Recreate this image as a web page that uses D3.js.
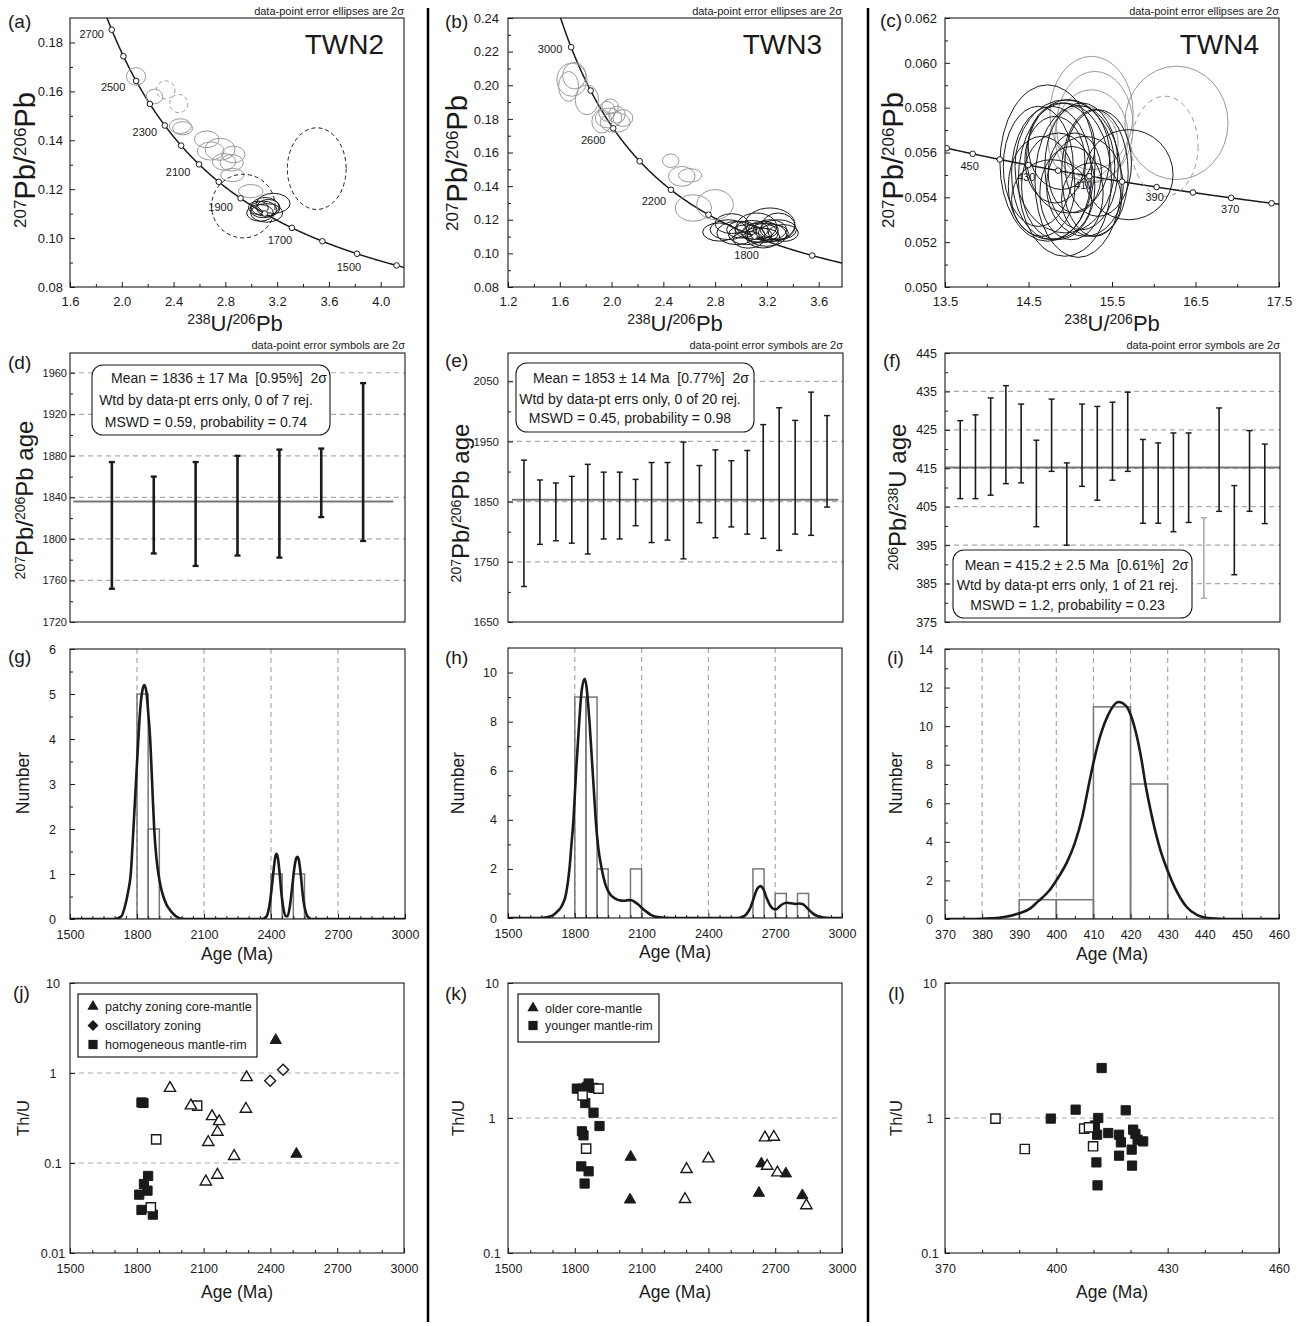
<!DOCTYPE html>
<html><head><meta charset="utf-8">
<script src="https://cdn.jsdelivr.net/npm/d3@7"></script>
<style>body{margin:0;background:#fff}svg{display:block}</style>
</head><body>
<svg id="chart" width="1305" height="1326"></svg>
<script>
// ================= DATA =================
// decay constants (per year) for the Tera-Wasserburg concordia
const LAMBDA238 = 1.55125e-10, LAMBDA235 = 9.8485e-10, U238_U235 = 137.88;

// ---- (a) TWN2 concordia: ellipses [x, y, rx, ry] in ratio units
const concA_ages = [1400,1500,1600,1700,1800,1900,2000,2100,2200,2300,2400,2500,2600,2700];
const concA_labels = [2700,2500,2300,2100,1900,1700,1500];
const ellA_gray = [[2.110,.1661,.074,.0036],[2.252,.1579,.064,.0030],[2.452,.1458,.085,.0030],[2.470,.1449,.077,.0027],
  [2.656,.1404,.095,.0034],[2.687,.1356,.103,.0037],[2.759,.1363,.116,.0045],[2.790,.1312,.090,.0034],
  [2.862,.1342,.090,.0034],[2.849,.1308,.090,.0034],[2.854,.1258,.090,.0027],[2.996,.1192,.095,.0027]];
const ellA_grayDash = [[2.339,.1606,.072,.0037],[2.440,.1550,.070,.0037]];
const ellA_blackDash = [[2.939,.1131,.245,.0130],[3.506,.1284,.227,.0167]];
const ellA_black = [[3.094,.1117,.103,.0034],[3.055,.1124,.077,.0027],[3.119,.1103,.124,.0038],[3.171,.1142,.129,.0041],
  [3.132,.1124,.090,.0034],[3.068,.1103,.103,.0034],[3.107,.1128,.108,.0038]];

// ---- (b) TWN3
const concB_ages = [1600,1800,2000,2200,2400,2600,2800,3000];
const concB_labels = [3000,2600,2200,1800];
const ellB_gray = [[1.694,.2033,.116,.0099],[1.712,.2057,.090,.0079],[1.668,.1993,.077,.0089],[1.809,.1914,.090,.0089],
  [1.964,.1845,.064,.0059],[1.989,.1874,.064,.0044],[1.977,.1805,.103,.0059],[2.041,.1825,.064,.0050],
  [2.087,.1805,.077,.0050],[1.925,.1785,.077,.0069],[2.028,.1779,.116,.0059],[2.457,.1551,.064,.0040],
  [2.542,.1458,.103,.0059],[2.607,.1464,.090,.0040],[2.632,.1270,.141,.0079],[2.799,.1290,.141,.0089]];
const ellB_black = [[2.833,.1127,.129,.0054],[2.902,.1141,.141,.0059],[2.928,.1177,.129,.0059],[2.967,.1121,.154,.0069],
  [3.005,.1141,.116,.0050],[3.044,.1111,.141,.0059],[3.082,.1141,.129,.0055],[3.121,.1161,.154,.0079],
  [3.147,.1121,.141,.0059],[3.172,.1141,.116,.0050],[3.198,.1111,.154,.0069],[3.224,.1141,.129,.0059],
  [3.249,.1121,.116,.0050],[3.288,.1141,.141,.0059],[3.327,.1121,.116,.0050],[3.288,.1161,.129,.0079],
  [3.224,.1171,.193,.0099],[3.172,.1091,.129,.0059],[3.057,.1081,.116,.0050],[3.134,.1111,.103,.0044]];

// ---- (c) TWN4
const concC_ages = [360,370,380,390,400,410,420,430,440,450,460];
const concC_labels = [450,430,410,390,370];
const ellC_gray = [[16.272,.05732,.618,.00253],[15.255,.05776,.499,.00253],[15.295,.05717,.459,.00245],
  [15.255,.05672,.439,.00208],[15.155,.05642,.419,.00164]];
const ellC_grayDash = [[16.132,.05628,.399,.00223]];
const ellC_black = [[14.728,.05553,.570,.00349],[15.701,.05501,.530,.00201],[14.936,.05479,.558,.00342],
  [15.095,.05471,.518,.00339],[14.776,.05509,.479,.00297],[14.976,.05583,.499,.00253],[14.856,.05449,.439,.00238],
  [15.135,.05538,.439,.00283],[14.657,.05449,.399,.00223],[15.295,.05509,.399,.00283],[15.015,.05419,.379,.00208],
  [14.816,.05568,.359,.00193],[15.175,.05449,.459,.00223],[14.936,.05538,.598,.00297],[15.334,.05553,.399,.00238],
  [14.776,.05390,.479,.00178],[15.055,.05509,.319,.00178],[14.617,.05538,.419,.00268],[15.255,.05390,.359,.00164],
  [14.896,.05628,.399,.00193]];

// ---- (d)(e)(f) weighted means: [low, high] of each 2σ error bar
const barsD = [[1752,1874],[1786,1860],[1774,1874],[1784,1880],[1782,1886],[1821,1887],[1798,1950]];
const meanD = 1836;
const barsE = [[1709,1919],[1779,1886],[1785,1881],[1781,1892],[1763,1912],[1788,1899],[1788,1899],[1810,1887],
  [1782,1915],[1786,1915],[1755,1949],[1815,1910],[1790,1936],[1808,1918],[1796,1935],[1789,1978],
  [1769,2006],[1796,1985],[1794,2032],[1841,1993]];
const meanE = 1853;
const barsF = [[407.1,427.4],[407.1,428.9],[408.0,433.3],[411.0,436.5],[411.2,431.7],[399.8,422.3],[414.2,433.0],
  [395.0,416.4],[410.3,431.7],[406.7,431.1],[411.9,432.2],[414.2,434.8],[400.7,422.5],[400.7,421.6],
  [398.5,424.2],[400.9,424.2],[381.2,402.1],[403.8,430.7],[387.3,410.5],[403.8,424.8],[400.6,421.3]];
const rejectedF = [16];
const meanF = 415.2;
const boxTextD = ["Mean = 1836 ± 17 Ma  [0.95%]  2σ","Wtd by data-pt errs only, 0 of 7 rej.","MSWD = 0.59, probability = 0.74"];
const boxTextE = ["Mean = 1853 ± 14 Ma  [0.77%]  2σ","Wtd by data-pt errs only, 0 of 20 rej.","MSWD = 0.45, probability = 0.98"];
const boxTextF = ["Mean = 415.2 ± 2.5 Ma  [0.61%]  2σ","Wtd by data-pt errs only, 1 of 21 rej.","MSWD = 1.2, probability = 0.23"];

// ---- (g)(h)(i) histograms [bin start, bin end, count] and probability curves [age, value]
const histG = [[1800,1850,5],[1850,1900,2],[2400,2450,1],[2500,2550,1]];
const pdfG = [[1500,0],[1700,0],[1730,0.06],[1747,0.3],[1760,0.6],[1772,1.0],[1784,2.0],[1795,3.0],[1806,4.0],
  [1815,4.7],[1825,5.1],[1833,5.2],[1842,5.05],[1850,4.6],[1859,4.0],[1868,3.0],[1877,2.0],[1886,1.4],[1896,1.0],
  [1907,0.7],[1918,0.5],[1932,0.32],[1948,0.2],[1965,0.1],[1985,0.03],[2010,0],[2360,0],[2380,0.06],[2393,0.3],
  [2404,0.72],[2413,1.15],[2420,1.4],[2424,1.45],[2430,1.38],[2438,1.05],[2446,0.6],[2455,0.25],[2466,0.06],
  [2474,0.06],[2485,0.3],[2495,0.72],[2505,1.15],[2514,1.36],[2519,1.38],[2525,1.3],[2533,1.0],[2542,0.55],
  [2552,0.22],[2563,0.06],[2580,0],[3000,0]];
const histH = [[1800,1850,9],[1850,1900,9],[1900,1950,2],[2050,2100,2],[2600,2650,2],[2700,2750,1],[2800,2850,1]];
const pdfH = [[1500,0],[1640,0],[1680,0.04],[1705,0.13],[1720,0.25],[1742,0.5],[1761,1.0],[1776,2.0],[1785,3.0],
  [1794,4.0],[1800,5.0],[1806,6.0],[1813,7.0],[1820,8.0],[1830,9.2],[1844,9.75],[1853,9.4],[1860,8.7],[1866,8.0],
  [1873,7.0],[1880,6.0],[1887,5.0],[1894,4.0],[1905,2.9],[1921,2.0],[1940,1.3],[1960,0.95],[1980,0.8],[2000,0.72],
  [2020,0.7],[2040,0.73],[2055,0.72],[2070,0.65],[2085,0.55],[2105,0.38],[2123,0.25],[2140,0.14],[2160,0.06],
  [2190,0.015],[2230,0],[2530,0],[2550,0.03],[2570,0.15],[2590,0.45],[2605,0.85],[2620,1.2],[2635,1.3],[2648,1.15],
  [2662,0.8],[2678,0.5],[2692,0.37],[2703,0.35],[2716,0.44],[2732,0.56],[2752,0.62],[2772,0.6],[2790,0.57],
  [2808,0.59],[2822,0.57],[2838,0.46],[2855,0.3],[2870,0.18],[2890,0.08],[2910,0.03],[2950,0],[3000,0]];
const histI = [[390,400,1],[400,410,1],[410,420,11],[420,430,7]];
const pdfI = [[370,0],[378,0],[382,0.03],[386,0.1],[390,0.3],[393,0.55],[395,0.9],[398,1.45],[400,2.0],[403,3.0],
  [405,3.95],[407,5.3],[409,7.2],[410,8.1],[412,9.6],[414,10.6],[416.7,11.25],[419,11.0],[420,10.6],[421,10.0],
  [422,9.2],[423,8.2],[424,7.0],[425,6.0],[426,5.1],[428,3.6],[430,2.5],[432,1.6],[435,0.65],[438,0.2],[440,0.08],
  [444,0.015],[448,0],[460,0]];

// ---- (j)(k)(l) Th/U vs age [age, Th/U]
const thuJ_sqFilled = [[1821,0.47],[1830,0.465],[1851,0.0718],[1832,0.0585],[1848,0.0493],[1811,0.0445],[1821,0.0301],[1872,0.0267]];
const thuJ_sqOpen = [[2071,0.434],[1887,0.183],[1863,0.0322]];
const thuJ_triFilled = [[2424,2.31],[2517,0.126]];
const thuJ_triOpen = [[1949,0.68],[2043,0.434],[2138,0.33],[2170,0.29],[2162,0.221],[2121,0.17],[2237,0.119],
  [2110,0.062],[2162,0.0736],[2293,0.895],[2290,0.398]];
const thuJ_diaOpen = [[2399,0.822],[2457,1.089]];
const legendJ = ["patchy zoning core-mantle","oscillatory zoning","homogeneous mantle-rim"];

const thuK_sqFilled = [[1809,1.65],[1832,1.65],[1862,1.80],[1854,1.70],[1884,1.67],[1847,1.29],[1884,1.095],[1911,0.872],
  [1832,0.797],[1839,0.744],[1829,0.438],[1862,0.403],[1844,0.327]];
const thuK_sqOpen = [[1835,1.47],[1906,1.65],[1851,0.593]];
const thuK_triFilled = [[2051,0.514],[2048,0.248],[2638,0.459],[2627,0.278],[2748,0.387],[2822,0.267]];
const thuK_triOpen = [[2302,0.417],[2400,0.5],[2295,0.25],[2654,0.715],[2694,0.723],[2664,0.441],[2710,0.394],[2840,0.225]];
const legendK = ["older core-mantle","younger mantle-rim"];

const thuL_sqFilled = [[398.5,0.99],[405.2,1.153],[412.2,2.345],[411.3,1.0],[410.4,0.88],[411.0,0.752],[414.0,0.774],
  [416.9,0.752],[417.4,0.66],[418.7,1.14],[420.7,0.82],[421.3,0.762],[421.9,0.69],[423.4,0.671],[420.3,0.583],
  [416.9,0.526],[420.4,0.444],[410.8,0.469],[411.1,0.317]];
const thuL_sqOpen = [[383.6,0.99],[391.5,0.589],[407.5,0.834],[408.8,0.853],[409.9,0.617]];

// ---- tick values
const ticksA_x = [1.6,2.0,2.4,2.8,3.2,3.6,4.0], ticksA_xm = [1.8,2.2,2.6,3.0,3.4,3.8];
const ticksA_y = [0.08,0.10,0.12,0.14,0.16,0.18], ticksA_ym = [0.09,0.11,0.13,0.15,0.17];
const ticksB_x = [1.2,1.6,2.0,2.4,2.8,3.2,3.6], ticksB_xm = [1.4,1.8,2.2,2.6,3.0,3.4];
const ticksB_y = [0.08,0.10,0.12,0.14,0.16,0.18,0.20,0.22,0.24], ticksB_ym = [0.09,0.11,0.13,0.15,0.17,0.19,0.21,0.23];
const ticksC_x = [13.5,14.5,15.5,16.5,17.5], ticksC_xm = [14,15,16,17];
const ticksC_y = [0.050,0.052,0.054,0.056,0.058,0.060,0.062], ticksC_ym = [0.051,0.053,0.055,0.057,0.059,0.061];
const ticksD_y = [1720,1760,1800,1840,1880,1920,1960], ticksD_ym = [1740,1780,1820,1860,1900,1940];
const ticksE_y = [1650,1750,1850,1950,2050], ticksE_ym = [1700,1800,1900,2000];
const ticksF_y = [375,385,395,405,415,425,435,445], ticksF_ym = [380,390,400,410,420,430,440];
const ticksAge_x = [1500,1800,2100,2400,2700,3000];
const ticksAge_xm = [1550,1600,1650,1700,1750,1850,1900,1950,2000,2050,2150,2200,2250,2300,2350,2450,2500,2550,2600,2650,2750,2800,2850,2900,2950];
const ticksG_y = [0,1,2,3,4,5,6], ticksG_ym = [0.5,1.5,2.5,3.5,4.5,5.5];
const ticksH_y = [0,2,4,6,8,10], ticksH_ym = [1,3,5,7,9];
const ticksI_x = [370,380,390,400,410,420,430,440,450,460], ticksI_xm = [375,385,395,405,415,425,435,445,455];
const ticksI_y = [0,2,4,6,8,10,12,14], ticksI_ym = [1,3,5,7,9,11,13];
const ticksJ_xm = [1600,1700,1900,2000,2200,2300,2500,2600,2800,2900];
const ticksJ_y = [0.01,0.1,1,10], ticksJ_yLabels = ["0.01","0.1","1","10"];
const ticksK_y = [0.1,1,10], ticksK_yLabels = ["0.1","1","10"];
const ticksL_x = [370,400,430,460], ticksL_xm = [380,390,410,420,440,450];

// ================= LAYOUT =================
const FONT = "'Liberation Sans', Arial, Helvetica, sans-serif";
const INK = "#1a1a1a", GRAY = "#999", GRID = "#aaa";
const BOX = {
  a:{x0:70,x1:404,y0:18,y1:287}, b:{x0:508,x1:842,y0:18,y1:287}, c:{x0:945,x1:1279,y0:18,y1:287},
  d:{x0:70,x1:405,y0:353,y1:622}, e:{x0:508,x1:843,y0:353,y1:622}, f:{x0:945,x1:1280,y0:353,y1:622},
  g:{x0:70,x1:405,y0:649,y1:919}, h:{x0:508,x1:842,y0:648,y1:918}, i:{x0:945,x1:1279,y0:649,y1:919},
  j:{x0:70,x1:404,y0:983,y1:1253}, k:{x0:508,x1:842,y0:983,y1:1253}, l:{x0:945,x1:1279,y0:983,y1:1253}
};

const svg = d3.select('#chart').attr('font-family', FONT);
const defs = svg.append('defs');
svg.append('rect').attr('width',1305).attr('height',1326).attr('fill','#fff');

// column separators
[428, 868].forEach(xv => svg.append('line').attr('x1',xv).attr('x2',xv).attr('y1',8).attr('y2',1322)
  .attr('stroke','#000').attr('stroke-width',2.5));

function makePanel(id, xDom, yDom, yLog) {
  const box = BOX[id];
  const x = d3.scaleLinear().domain(xDom).range([box.x0, box.x1]);
  const y = (yLog ? d3.scaleLog() : d3.scaleLinear()).domain(yDom).range([box.y1, box.y0]);
  defs.append('clipPath').attr('id','clip-'+id).append('rect')
    .attr('x',box.x0).attr('y',box.y0).attr('width',box.x1-box.x0).attr('height',box.y1-box.y0);
  const g = svg.append('g').attr('class','panel-'+id);
  const under = g.append('g').attr('clip-path',`url(#clip-${id})`);
  const plot = g.append('g').attr('clip-path',`url(#clip-${id})`);
  return {id, g, under, plot, x, y, box};
}

function styleAxis(sel, fs) {
  sel.select('.domain').remove();
  sel.attr('font-family',FONT).attr('font-size',fs);
  sel.selectAll('.tick line').attr('stroke',INK).attr('stroke-width',1);
  sel.selectAll('.tick text').attr('fill',INK).attr('font-size',fs);
}

function drawAxes(P, o) {
  const {g, x, y, box} = P;
  if (o.xMajor) {
    const a = g.append('g').attr('transform',`translate(0,${box.y1})`)
      .call(d3.axisBottom(x).tickValues(o.xMajor).tickSize(-5).tickPadding(o.xPad).tickFormat(o.xFmt));
    styleAxis(a, o.fs);
  }
  if (o.xMinor) {
    const a = g.append('g').attr('transform',`translate(0,${box.y1})`)
      .call(d3.axisBottom(x).tickValues(o.xMinor).tickSize(-3).tickFormat(''));
    styleAxis(a, o.fs);
  }
  const ay = g.append('g').attr('transform',`translate(${box.x0},0)`)
    .call(d3.axisLeft(y).tickValues(o.yMajor).tickSize(-5).tickPadding(o.yPad).tickFormat(o.yFmt));
  styleAxis(ay, o.fs);
  if (o.yMid) ay.selectAll('.tick text').attr('text-anchor','middle');
  if (o.yMinor) {
    const a = g.append('g').attr('transform',`translate(${box.x0},0)`)
      .call(d3.axisLeft(y).tickValues(o.yMinor).tickSize(-3).tickFormat(''));
    styleAxis(a, o.fs);
  }
  g.append('rect').attr('x',box.x0).attr('y',box.y0).attr('width',box.x1-box.x0).attr('height',box.y1-box.y0)
    .attr('fill','none').attr('stroke',INK).attr('stroke-width',1.1);
}

function richText(parent, x, y, parts, F, f, rotate) {
  const t = parent.append('text').attr('fill',INK).attr('text-anchor','middle').attr('font-family',FONT)
    .attr('transform', rotate ? `translate(${x},${y}) rotate(-90)` : `translate(${x},${y})`);
  let up = false;
  parts.forEach(([s, sup]) => {
    const ts = t.append('tspan').text(s).attr('font-size', sup ? f : F);
    if (sup && !up) { ts.attr('dy', -0.32*F); up = true; }
    else if (!sup && up) { ts.attr('dy', 0.32*F); up = false; }
  });
  return t;
}

function label(P, txt, x, y, fs, anchor) {
  return P.g.append('text').attr('x',x).attr('y',y).attr('font-size',fs).attr('fill',INK)
    .attr('text-anchor',anchor||'start').attr('font-family',FONT).style('white-space','pre').text(txt);
}

function tw(tMa) {
  const t = tMa*1e6;
  const e8 = Math.exp(LAMBDA238*t) - 1, e5 = Math.exp(LAMBDA235*t) - 1;
  return [1/e8, e5/e8/U238_U235];
}

function drawConcordiaCurve(P, tRange) {
  const n = 500, pts = [];
  for (let i = 0; i <= n; i++) pts.push(tw(tRange[0] + (tRange[1]-tRange[0])*i/n));
  P.under.append('path').datum(pts)
    .attr('d', d3.line().x(d=>P.x(d[0])).y(d=>P.y(d[1])))
    .attr('fill','none').attr('stroke',INK).attr('stroke-width',1.5);
}
function drawConcordiaMarks(P, ages, labels, off) {
  P.plot.selectAll(null).data(ages).join('circle')
    .attr('cx', a=>P.x(tw(a)[0])).attr('cy', a=>P.y(tw(a)[1])).attr('r',2.8)
    .attr('fill','#fff').attr('stroke',INK).attr('stroke-width',1);
  P.g.selectAll(null).data(labels).join('text')
    .attr('x', a=>P.x(tw(a)[0]) + off(a)[0]).attr('y', a=>P.y(tw(a)[1]) + off(a)[1] + 4)
    .attr('text-anchor','middle').attr('font-size',11).attr('fill',INK).text(a=>a);
}

function drawEllipses(P, arr, color, dash, w) {
  P.plot.selectAll(null).data(arr).join('ellipse')
    .attr('cx', d=>P.x(d[0])).attr('cy', d=>P.y(d[1]))
    .attr('rx', d=>Math.abs(P.x(d[0]+d[2]) - P.x(d[0])))
    .attr('ry', d=>Math.abs(P.y(d[1]+d[3]) - P.y(d[1])))
    .attr('fill','none').attr('stroke',color).attr('stroke-width',w||1)
    .attr('stroke-dasharray', dash || null);
}

function hGrid(P, vals) {
  P.under.selectAll(null).data(vals).join('line')
    .attr('x1',P.box.x0).attr('x2',P.box.x1).attr('y1',v=>P.y(v)).attr('y2',v=>P.y(v))
    .attr('stroke',GRID).attr('stroke-width',1.2).attr('stroke-dasharray','5,4');
}
function vGrid(P, vals) {
  P.under.selectAll(null).data(vals).join('line')
    .attr('y1',P.box.y0).attr('y2',P.box.y1).attr('x1',v=>P.x(v)).attr('x2',v=>P.x(v))
    .attr('stroke',GRID).attr('stroke-width',1.2).attr('stroke-dasharray','5,4');
}

function drawBars(P, arr, w, rejected) {
  const col = (i) => rejected && rejected.includes(i) ? '#aaa' : INK;
  const gb = P.plot.selectAll(null).data(arr).join('g');
  gb.append('line').attr('x1',(d,i)=>P.x(i+1)).attr('x2',(d,i)=>P.x(i+1))
    .attr('y1',d=>P.y(d[0])).attr('y2',d=>P.y(d[1])).attr('stroke',(d,i)=>col(i)).attr('stroke-width',w);
  [0,1].forEach(k => gb.append('line').attr('x1',(d,i)=>P.x(i+1)-3).attr('x2',(d,i)=>P.x(i+1)+3)
    .attr('y1',d=>P.y(d[k])).attr('y2',d=>P.y(d[k])).attr('stroke',(d,i)=>col(i)).attr('stroke-width',w*0.9));
}
function meanLine(P, m, xa, xb) {
  P.plot.append('line').attr('x1',P.x(xa)).attr('x2',P.x(xb)).attr('y1',P.y(m)).attr('y2',P.y(m))
    .attr('stroke','#777').attr('stroke-width',2);
}
function textBox(P, r, lines) {
  P.g.append('rect').attr('x',r.x).attr('y',r.y).attr('width',r.w).attr('height',r.h).attr('rx',11)
    .attr('fill','#fff').attr('stroke',INK).attr('stroke-width',1.1);
  const cx = r.x + r.w/2;
  lines.forEach((s,i) => label(P, s, cx + (i===0 ? r.d1 : -5), r.y + r.base[i], 14, 'middle'));
}

function drawHist(P, arr) {
  P.plot.selectAll(null).data(arr).join('rect')
    .attr('x',d=>P.x(d[0])).attr('width',d=>P.x(d[1])-P.x(d[0]))
    .attr('y',d=>P.y(d[2])).attr('height',d=>P.y(0)-P.y(d[2]))
    .attr('fill','none').attr('stroke','#777').attr('stroke-width',1.5);
}
function drawPdf(P, arr) {
  P.plot.append('path').datum(arr)
    .attr('d', d3.line().x(d=>P.x(d[0])).y(d=>P.y(d[1])).curve(d3.curveMonotoneX))
    .attr('fill','none').attr('stroke',INK).attr('stroke-width',2.6);
}

const SYM = {
  sq: d3.symbol().type(d3.symbolSquare).size(85)(),
  tri: d3.symbol().type(d3.symbolTriangle).size(55)(),
  dia: d3.symbol().type(d3.symbolSquare).size(60)()
};
function drawSym(P, arr, kind, filled) {
  P.plot.selectAll(null).data(arr).join('path').attr('d', SYM[kind])
    .attr('transform', d=>`translate(${P.x(d[0])},${P.y(d[1])})${kind==='dia'?' rotate(45)':''}`)
    .attr('fill', filled ? INK : '#fff').attr('stroke', INK).attr('stroke-width', filled ? 1 : 1.4);
}
function legend(P, r, items) {
  P.g.append('rect').attr('x',r.x).attr('y',r.y).attr('width',r.w).attr('height',r.h)
    .attr('fill','#fff').attr('stroke',INK).attr('stroke-width',1.2);
  items.forEach((it, i) => {
    const cy = r.y + r.first + i*r.step;
    P.g.append('path').attr('d', SYM[it[1]])
      .attr('transform',`translate(${r.x+15},${cy})${it[1]==='dia'?' rotate(45)':''}`).attr('fill',INK);
    label(P, it[0], r.x+27, cy+4.5, 12.5);
  });
}

const fmt2 = d3.format('.2f'), fmt1 = d3.format('.1f'), fmt3 = d3.format('.3f'), fmtD = d3.format('d');
const PB76 = [['207',1],['Pb',0],['/',0],['206',1],['Pb',0]];
const U38PB = [['238',1],['U',0],['/',0],['206',1],['Pb',0]];

// ================= ROW 1: concordia =================
function concPanel(id, xDom, yDom, tRange, ages, labs, off, ells, ticks, fmts, name, titleX, yTitleX, yTitleY) {
  const P = makePanel(id, xDom, yDom);
  drawConcordiaCurve(P, tRange);
  ells.forEach(e => drawEllipses(P, e[0], e[1], e[2]));
  drawConcordiaMarks(P, ages, labs, off);
  drawAxes(P, {xMajor:ticks[0], xMinor:ticks[1], yMajor:ticks[2], yMinor:ticks[3], xFmt:fmts[0], yFmt:fmts[1], fs:13, xPad:10, yPad:ticks[4]});
  label(P, 'data-point error ellipses are 2σ', P.box.x1, 14.5, 11, 'end');
  label(P, name, P.box.x1 - 20, 54, 28, 'end');
  richText(P.g, yTitleX, yTitleY, PB76, 29, 17, true);
  richText(P.g, titleX, 331, U38PB, 22, 14, false);
  return P;
}
const offA = {2700:[-20,4],2500:[-23,6],2300:[-20,6],2100:[-21,8],1900:[-20,9],1700:[-12,12],1500:[-8,13]};
const PA = concPanel('a',[1.6,4.18],[0.08,0.19],[1300,2900],concA_ages,concA_labels,a=>offA[a],
  [[ellA_gray,GRAY],[ellA_grayDash,GRAY,'4,3'],[ellA_blackDash,INK,'4,3'],[ellA_black,INK]],
  [ticksA_x,ticksA_xm,ticksA_y,ticksA_ym,7],[fmt1,fmt2],'TWN2',235,35,160);
const offB = {3000:[-21,2],2600:[-20,12],2200:[-17,11],1800:[-8,18]};
const PB = concPanel('b',[1.2,3.78],[0.08,0.24],[1400,3500],concB_ages,concB_labels,a=>offB[a],
  [[ellB_gray,GRAY],[ellB_black,INK]],
  [ticksB_x,ticksB_xm,ticksB_y,ticksB_ym,9],[fmt1,fmt2],'TWN3',675,467,163);
const offC = {450:[-3,12],430:[-2,12],410:[-6,9],390:[-2,10],370:[-1,11]};
const PC = concPanel('c',[13.5,17.5],[0.050,0.062],[330,480],concC_ages,concC_labels,a=>offC[a],
  [[ellC_gray,GRAY],[ellC_grayDash,GRAY,'5,4'],[ellC_black,INK]],
  [ticksC_x,ticksC_xm,ticksC_y,ticksC_ym,8],[fmt1,fmt3],'TWN4',1112,903,160);

// ================= ROW 2: weighted means =================
function meanPanel(id, n, yDom, bars, w, rej, mean, mx, grid, ticks, pad, fs, boxR, lines, yParts, ytx, yty) {
  const P = makePanel(id, [0, n+1], yDom);
  hGrid(P, grid);
  meanLine(P, mean, mx[0], mx[1]);
  drawBars(P, bars, w, rej);
  drawAxes(P, {yMajor:ticks[0], yMinor:ticks[1], yFmt:fmtD, fs:fs, yPad:pad});
  textBox(P, boxR, lines);
  label(P, 'data-point error symbols are 2σ', P.box.x1, 349, 11, 'end');
  richText(P.g, ytx, yty, yParts, 24, 14, true);
  return P;
}
meanPanel('d', barsD.length, [1720,1979], barsD, 2.6, null, meanD, [0.08,7.72], [1760,1800,1840,1880,1920,1960],
  [ticksD_y,ticksD_ym], 3, 11, {x:92,y:365,w:238,h:70,base:[18,40,61.5],d1:8}, boxTextD,
  PB76.concat([['\u00a0age',0]]), 33, 500);
meanPanel('e', barsE.length, [1650,2097], barsE, 1.6, null, meanE, [0.25,20.7], [1750,1850,1950,2050],
  [ticksE_y,ticksE_ym], 9, 11.5, {x:516,y:363,w:238,h:69,base:[20,41,60],d1:6}, boxTextE,
  PB76.concat([['\u00a0age',0]]), 469, 503);
meanPanel('f', barsF.length, [375,445], barsF, 1.6, rejectedF, meanF, [0,22], [385,395,405,415,425,435],
  [ticksF_y,ticksF_ym], 8, 12.5, {x:953,y:550,w:239,h:68,base:[20,40,59.5],d1:4}, boxTextF,
  [['206',1],['Pb',0],['/',0],['238',1],['U',0],['\u00a0age',0]], 906, 497);

// ================= ROW 3: histograms =================
function histPanel(id, xDom, yDom, hist, pdf, grid, ticks, xFmt, pad, ytx, xtx, xty) {
  const P = makePanel(id, xDom, yDom);
  vGrid(P, grid);
  drawHist(P, hist);
  drawPdf(P, pdf);
  drawAxes(P, {xMajor:ticks[0], xMinor:ticks[1], yMajor:ticks[2], yMinor:ticks[3], xFmt:xFmt, yFmt:fmtD, fs:12.5, xPad:11, yPad:pad});
  richText(P.g, ytx, 783, [['Number',0]], 17.5, 10, true);
  richText(P.g, xtx, xty, [['Age (Ma)',0]], 17.5, 10, false);
  return P;
}
histPanel('g',[1500,3000],[0,6],histG,pdfG,[1800,2100,2400,2700],[ticksAge_x,ticksAge_xm,ticksG_y,ticksG_ym],fmtD,14,29,237,960);
histPanel('h',[1500,3000],[0,11],histH,pdfH,[1800,2100,2400,2700],[ticksAge_x,ticksAge_xm,ticksH_y,ticksH_ym],fmtD,11,464,675,958);
histPanel('i',[370,460],[0,14],histI,pdfI,[380,390,400,410,420,430,440,450],[ticksI_x,ticksI_xm,ticksI_y,ticksI_ym],fmtD,12,902,1112,960);

// ================= ROW 4: Th/U =================
function thuPanel(id, xDom, yDom, xt, yt, yLabels, pad, ytx, xtx) {
  const P = makePanel(id, xDom, yDom, true);
  hGrid(P, yt.filter(v => v > yDom[0] && v < yDom[1]));
  return {P, finish: () => {
    drawAxes(P, {xMajor:xt[0], xMinor:xt[1], yMajor:yt, xFmt:fmtD, yFmt:(v,i)=>yLabels[i], fs:12.5, xPad:11, yPad:pad, yMid:true});
    richText(P.g, ytx, 1118, [['Th/U',0]], 16.5, 10, true);
    richText(P.g, xtx, 1298, [['Age (Ma)',0]], 17.5, 10, false);
  }};
}
const J = thuPanel('j',[1500,3000],[0.01,10],[ticksAge_x,ticksJ_xm],ticksJ_y,ticksJ_yLabels,17,29,237);
drawSym(J.P, thuJ_sqFilled, 'sq', true);
drawSym(J.P, thuJ_triFilled, 'tri', true);
drawSym(J.P, thuJ_sqOpen, 'sq', false);
drawSym(J.P, thuJ_triOpen, 'tri', false);
drawSym(J.P, thuJ_diaOpen, 'dia', false);
J.finish();
legend(J.P, {x:78,y:994,w:179,h:63,first:12.5,step:19}, [[legendJ[0],'tri'],[legendJ[1],'dia'],[legendJ[2],'sq']]);

const K = thuPanel('k',[1500,3000],[0.1,10],[ticksAge_x,ticksJ_xm],ticksK_y,ticksK_yLabels,16,464,675);
drawSym(K.P, thuK_sqFilled, 'sq', true);
drawSym(K.P, thuK_triFilled, 'tri', true);
drawSym(K.P, thuK_sqOpen, 'sq', false);
drawSym(K.P, thuK_triOpen, 'tri', false);
K.finish();
legend(K.P, {x:518,y:994,w:141,h:48,first:14,step:17.5}, [[legendK[0],'tri'],[legendK[1],'sq']]);

const L = thuPanel('l',[370,460],[0.1,10],[ticksL_x,ticksL_xm],ticksK_y,ticksK_yLabels,15,902,1112);
drawSym(L.P, thuL_sqFilled, 'sq', true);
drawSym(L.P, thuL_sqOpen, 'sq', false);
L.finish();

// ================= panel letters =================
const letters = [['(a)',8,28],['(b)',445,28],['(c)',880,27],['(d)',8,369],['(e)',445,367],['(f)',883,367],
  ['(g)',8,663],['(h)',445,664],['(i)',887,664],['(j)',13,999],['(k)',445,1000],['(l)',888,1000]];
letters.forEach(([t,x,y]) => svg.append('text').attr('x',x).attr('y',y).attr('font-size',19).attr('fill',INK).text(t));
</script>
</body></html>
